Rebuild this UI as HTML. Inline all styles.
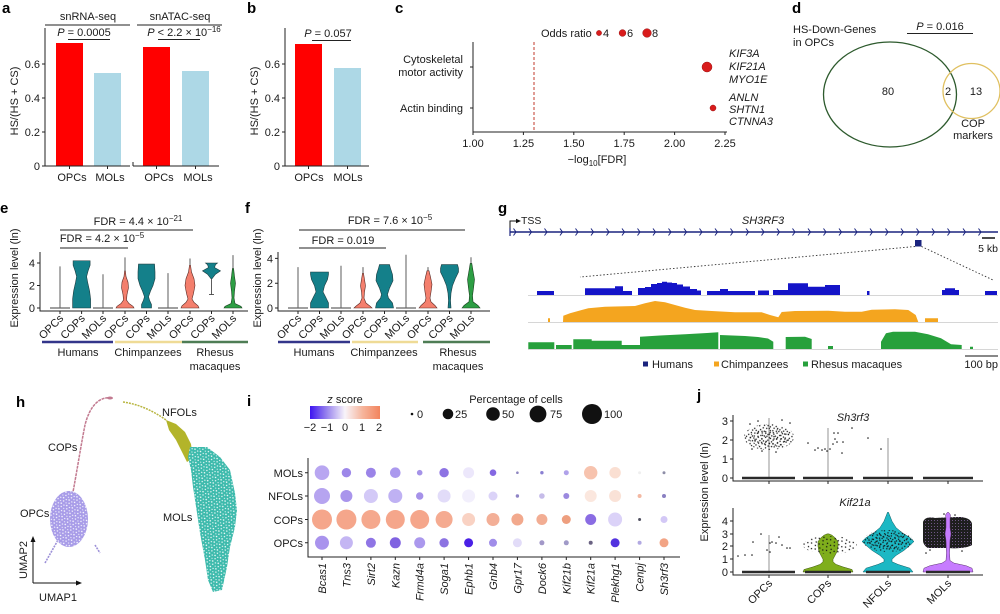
<!DOCTYPE html>
<html><head><meta charset="utf-8">
<style>
html,body{margin:0;padding:0;background:#fff;}
svg{display:block;font-family:"Liberation Sans",Arial,sans-serif;}
.t{font-size:11px;fill:#1a1a1a;}
.s{font-size:10.5px;fill:#1a1a1a;}
.L{font-size:15px;font-weight:bold;fill:#000;}
.ax{stroke:#222;stroke-width:1;fill:none;}
.it{font-style:italic;}
.vl{stroke:#333;stroke-width:0.8;fill:none;}
.fl{stroke:#666;stroke-width:1.2;fill:none;}
.vt{fill:#14808a;stroke:#1d3b3f;stroke-width:0.6;}
.vs{fill:#f47f6d;stroke:#5a2a25;stroke-width:0.6;}
.vg{fill:#2d9e44;stroke:#1a4020;stroke-width:0.6;}
</style></head><body>
<svg width="1000" height="614" viewBox="0 0 1000 614" xmlns="http://www.w3.org/2000/svg">
<defs>
<pattern id="spw" width="6" height="6" patternUnits="userSpaceOnUse" patternTransform="rotate(23)">
<circle cx="1" cy="1.2" r="0.75" fill="#fff"/><circle cx="4.2" cy="2" r="0.65" fill="#fff"/><circle cx="2.3" cy="4.3" r="0.7" fill="#fff"/><circle cx="5.3" cy="5.1" r="0.55" fill="#fff"/>
</pattern>
<pattern id="pk" width="10" height="8" patternUnits="userSpaceOnUse" patternTransform="rotate(17)">
<circle cx="1" cy="1" r="0.7" fill="#111"/><circle cx="5" cy="2" r="0.7" fill="#111"/><circle cx="8.5" cy="1.5" r="0.7" fill="#111"/><circle cx="3" cy="4.5" r="0.7" fill="#111"/><circle cx="7" cy="5" r="0.7" fill="#111"/><circle cx="1.5" cy="7" r="0.7" fill="#111"/><circle cx="5.5" cy="7.2" r="0.7" fill="#111"/><circle cx="9" cy="6.5" r="0.7" fill="#111"/>
</pattern>
<pattern id="pk2" width="9" height="7" patternUnits="userSpaceOnUse" patternTransform="rotate(-31)">
<circle cx="2" cy="1.5" r="0.7" fill="#111"/><circle cx="6.5" cy="3" r="0.7" fill="#111"/><circle cx="4" cy="5.5" r="0.7" fill="#111"/><circle cx="8" cy="6.2" r="0.7" fill="#111"/>
</pattern>
<pattern id="pkd" width="3" height="3" patternUnits="userSpaceOnUse">
<rect width="3" height="3" fill="#1e1e1e"/><circle cx="1.5" cy="1.5" r="0.5" fill="#8a6aa8"/>
</pattern>
<linearGradient id="zg" x1="0" y1="0" x2="1" y2="0">
<stop offset="0" stop-color="#3d14f0"/><stop offset="0.25" stop-color="#9c88ee"/><stop offset="0.5" stop-color="#f8f4fa"/><stop offset="0.75" stop-color="#f6b59c"/><stop offset="1" stop-color="#f2845e"/>
</linearGradient>
</defs>

<!-- ================= a ================= -->
<text class="L" x="2" y="13">a</text>
<text class="t" x="88" y="20" text-anchor="middle">snRNA-seq</text>
<line x1="45" y1="25" x2="130" y2="25" class="ax"/>
<text class="t" x="180" y="20" text-anchor="middle">snATAC-seq</text>
<line x1="137" y1="25" x2="222" y2="25" class="ax"/>
<text class="t" x="84" y="36" text-anchor="middle"><tspan class="it">P</tspan> = 0.0005</text>
<line x1="68" y1="39.5" x2="110" y2="39.5" class="ax"/>
<text class="t" x="184" y="36" text-anchor="middle"><tspan class="it">P</tspan> &lt; 2.2 × 10<tspan dy="-4" font-size="8">−16</tspan></text>
<line x1="158" y1="39.5" x2="200" y2="39.5" class="ax"/>
<rect x="56" y="43" width="27" height="123" fill="#ff0000"/>
<rect x="94" y="73" width="27" height="93" fill="#add8e6"/>
<rect x="143" y="47" width="27" height="119" fill="#ff0000"/>
<rect x="182" y="71" width="27" height="95" fill="#add8e6"/>
<path class="ax" d="M45,28 V166 H130 M133,166 H219 M133,166V162"/>
<path class="ax" d="M42,166H45 M42,132H45 M42,98H45 M42,64H45 M69.5,166V169 M107.5,166V169 M156.5,166V169 M195.5,166V169"/>
<text class="t" x="40" y="170" text-anchor="end">0</text>
<text class="t" x="40" y="136" text-anchor="end">0.2</text>
<text class="t" x="40" y="102" text-anchor="end">0.4</text>
<text class="t" x="40" y="68" text-anchor="end">0.6</text>
<text class="t" transform="translate(18,101) rotate(-90)" text-anchor="middle">HS/(HS + CS)</text>
<text class="t" x="72" y="181" text-anchor="middle">OPCs</text>
<text class="t" x="110" y="181" text-anchor="middle">MOLs</text>
<text class="t" x="159" y="181" text-anchor="middle">OPCs</text>
<text class="t" x="198" y="181" text-anchor="middle">MOLs</text>

<!-- ================= b ================= -->
<text class="L" x="247" y="13">b</text>
<text class="t" x="328" y="37" text-anchor="middle"><tspan class="it">P</tspan> = 0.057</text>
<line x1="312" y1="40.5" x2="351" y2="40.5" class="ax"/>
<rect x="295" y="44" width="27" height="122" fill="#ff0000"/>
<rect x="334" y="68" width="27" height="98" fill="#add8e6"/>
<path class="ax" d="M285,28 V166 H369"/>
<path class="ax" d="M282,166H285 M282,132H285 M282,98H285 M282,64H285 M308.5,166V169 M347.5,166V169"/>
<text class="t" x="280" y="170" text-anchor="end">0</text>
<text class="t" x="280" y="136" text-anchor="end">0.2</text>
<text class="t" x="280" y="102" text-anchor="end">0.4</text>
<text class="t" x="280" y="68" text-anchor="end">0.6</text>
<text class="t" transform="translate(258,101) rotate(-90)" text-anchor="middle">HS/(HS + CS)</text>
<text class="t" x="309" y="181" text-anchor="middle">OPCs</text>
<text class="t" x="348" y="181" text-anchor="middle">MOLs</text>

<!-- ================= c ================= -->
<text class="L" x="395" y="13">c</text>
<text class="t" x="541" y="37">Odds ratio</text>
<circle cx="599" cy="33" r="2.6" fill="#d91c1c" stroke="#9a1010" stroke-width="0.5"/>
<text class="t" x="603" y="37">4</text>
<circle cx="622.5" cy="33" r="3.4" fill="#d91c1c" stroke="#9a1010" stroke-width="0.5"/>
<text class="t" x="627" y="37">6</text>
<circle cx="647" cy="33" r="4.3" fill="#d91c1c" stroke="#9a1010" stroke-width="0.5"/>
<text class="t" x="652" y="37">8</text>
<line x1="534" y1="42" x2="534" y2="132" stroke="#c0392b" stroke-dasharray="3,2" stroke-width="1"/>
<path class="ax" d="M473,42 V132 H727"/>
<path class="ax" d="M470,67H473 M470,108H473 M473,132V135 M523.4,132V135 M573.8,132V135 M624.2,132V135 M674.6,132V135 M725,132V135"/>
<text class="t" x="473" y="147" text-anchor="middle">1.00</text>
<text class="t" x="523.4" y="147" text-anchor="middle">1.25</text>
<text class="t" x="573.8" y="147" text-anchor="middle">1.50</text>
<text class="t" x="624.2" y="147" text-anchor="middle">1.75</text>
<text class="t" x="674.6" y="147" text-anchor="middle">2.00</text>
<text class="t" x="725" y="147" text-anchor="middle">2.25</text>
<text class="t" x="597" y="163" text-anchor="middle">−log<tspan dy="3" font-size="8">10</tspan><tspan dy="-3">[FDR]</tspan></text>
<text class="t" x="463" y="63" text-anchor="end">Cytoskeletal</text>
<text class="t" x="463" y="76" text-anchor="end">motor activity</text>
<text class="t" x="463" y="112" text-anchor="end">Actin binding</text>
<circle cx="707" cy="67" r="5" fill="#d91c1c" stroke="#9a1010" stroke-width="0.5"/>
<circle cx="713" cy="108" r="3" fill="#d91c1c" stroke="#9a1010" stroke-width="0.5"/>
<text class="t it" x="729" y="57">KIF3A</text>
<text class="t it" x="729" y="70">KIF21A</text>
<text class="t it" x="729" y="83">MYO1E</text>
<text class="t it" x="729" y="101">ANLN</text>
<text class="t it" x="729" y="113">SHTN1</text>
<text class="t it" x="729" y="125">CTNNA3</text>

<!-- ================= d ================= -->
<text class="L" x="792" y="13">d</text>
<text class="t" x="793" y="33">HS-Down-Genes</text>
<text class="t" x="793" y="46">in OPCs</text>
<text class="t" x="940" y="30" text-anchor="middle"><tspan class="it">P</tspan> = 0.016</text>
<line x1="907" y1="33.5" x2="973" y2="33.5" class="ax"/>
<ellipse cx="890" cy="94.5" rx="66.5" ry="52.5" fill="none" stroke="#2d5a2d" stroke-width="1.3"/>
<ellipse cx="971.5" cy="91" rx="28.5" ry="27.5" fill="none" stroke="#e0c060" stroke-width="1.3"/>
<text class="t" x="888" y="95" text-anchor="middle" font-size="12">80</text>
<text class="t" x="948" y="95" text-anchor="middle" font-size="12">2</text>
<text class="t" x="976" y="95" text-anchor="middle" font-size="12">13</text>
<text class="t" x="973" y="127" text-anchor="middle">COP</text>
<text class="t" x="973" y="139" text-anchor="middle">markers</text>

<!-- ================= e ================= -->
<text class="L" x="0" y="213">e</text>
<text class="t" x="138" y="225" text-anchor="middle">FDR = 4.4 × 10<tspan dy="-4" font-size="8">−21</tspan></text>
<line x1="60" y1="230" x2="193" y2="230" class="ax"/>
<text class="t" x="102" y="242" text-anchor="middle">FDR = 4.2 × 10<tspan dy="-4" font-size="8">−5</tspan></text>
<line x1="60" y1="248" x2="128" y2="248" class="ax"/>
<line x1="60" y1="308" x2="60" y2="266.4" class="vl"/><line x1="50" y1="308" x2="70" y2="308" class="fl"/>
<path class="vt" d="M72.6,308 L72.6,299 L73.6,291.1 L75.6,282.1 L76.6,276.5 L75.1,270.9 L73.1,265.25 L73.1,260.75 L90.1,260.75 L90.1,265.25 L88.1,270.9 L86.6,276.5 L87.6,282.1 L89.6,291.1 L90.6,299 L90.6,308 Z"/>
<line x1="103" y1="308" x2="103" y2="274.25" class="vl"/><line x1="93" y1="308" x2="113" y2="308" class="fl"/>
<line x1="125" y1="308" x2="125" y2="257.4" class="vl"/>
<path class="vs" d="M116,308 L117,306.3 L121,303.5 L123.5,300.1 L123,294.5 L121.5,287.75 L122,282.1 L124,276.5 L124.6,270.9 L125.4,270.9 L126,276.5 L128,282.1 L128.5,287.75 L127,294.5 L126.5,300.1 L129,303.5 L133,306.3 L134,308 Z"/>
<path class="vt" d="M141.5,308 L141.5,304.6 L143.5,300.1 L144.5,296.75 L142.5,291.1 L140,285.5 L138,278.75 L138,272 L138.5,264.1 L154.5,264.1 L155,272 L155,278.75 L153,285.5 L150.5,291.1 L148.5,296.75 L149.5,300.1 L151.5,304.6 L151.5,308 Z"/>
<line x1="168" y1="308" x2="168" y2="273.1" class="vl"/><line x1="158" y1="308" x2="178" y2="308" class="fl"/>
<line x1="190" y1="308" x2="190" y2="258.5" class="vl"/>
<path class="vs" d="M181,308 L182,305.75 L186,302.4 L188,299 L186.5,293.4 L185,285.5 L186,278.75 L188.5,272 L189.5,265.25 L190.5,265.25 L191.5,272 L194,278.75 L195,285.5 L193.5,293.4 L192,299 L194,302.4 L198,305.75 L199,308 Z"/>
<line x1="211.5" y1="294.5" x2="211.5" y2="263" class="vl"/>
<line x1="209" y1="294.5" x2="214" y2="294.5" class="vl"/>
<path class="vt" d="M211,278.75 L207.5,274.25 L202.5,270.9 L208.5,267.5 L207.5,264.7 L205.5,263 L217.5,263 L215.5,264.7 L214.5,267.5 L220.5,270.9 L215.5,274.25 L212,278.75 Z"/>
<line x1="233" y1="308" x2="233" y2="255.1" class="vl"/>
<path class="vg" d="M224,308 L225,306.3 L231,303.5 L232,297.9 L231.5,291.1 L230.5,283.25 L231.5,276.5 L232.4,268.6 L233.6,268.6 L234.5,276.5 L235.5,283.25 L234.5,291.1 L234,297.9 L235,303.5 L241,306.3 L242,308 Z"/>
<path class="ax" d="M40,252 V311 H248"/>
<path class="ax" d="M37,263H40 M37,285.5H40 M37,308H40 M60,311V314 M81.6,311V314 M103,311V314 M125,311V314 M146.5,311V314 M168,311V314 M190,311V314 M211.5,311V314 M233,311V314"/>
<text class="t" x="35" y="267" text-anchor="end">4</text>
<text class="t" x="35" y="289.5" text-anchor="end">2</text>
<text class="t" x="35" y="312" text-anchor="end">0</text>
<text class="t" transform="translate(18,278) rotate(-90)" text-anchor="middle">Expression level (ln)</text>
<g class="t">
<text transform="translate(64,319) rotate(-45)" text-anchor="end">OPCs</text>
<text transform="translate(85.6,319) rotate(-45)" text-anchor="end">COPs</text>
<text transform="translate(107,319) rotate(-45)" text-anchor="end">MOLs</text>
<text transform="translate(129,319) rotate(-45)" text-anchor="end">OPCs</text>
<text transform="translate(150.5,319) rotate(-45)" text-anchor="end">COPs</text>
<text transform="translate(172,319) rotate(-45)" text-anchor="end">MOLs</text>
<text transform="translate(194,319) rotate(-45)" text-anchor="end">OPCs</text>
<text transform="translate(215.5,319) rotate(-45)" text-anchor="end">COPs</text>
<text transform="translate(237,319) rotate(-45)" text-anchor="end">MOLs</text>
</g>
<line x1="42" y1="342" x2="113" y2="342" stroke="#33358a" stroke-width="2.5"/>
<line x1="115" y1="342" x2="182" y2="342" stroke="#efdb96" stroke-width="2.5"/>
<line x1="182" y1="342" x2="248" y2="342" stroke="#4e7d55" stroke-width="2.5"/>
<text class="t" x="78" y="356" text-anchor="middle">Humans</text>
<text class="t" x="148" y="356" text-anchor="middle">Chimpanzees</text>
<text class="t" x="215" y="356" text-anchor="middle">Rhesus</text>
<text class="t" x="215" y="370" text-anchor="middle">macaques</text>

<!-- ================= f ================= -->
<text class="L" x="245" y="213">f</text>
<text class="t" x="390" y="224" text-anchor="middle">FDR = 7.6 × 10<tspan dy="-4" font-size="8">−5</tspan></text>
<line x1="299" y1="230" x2="465" y2="230" class="ax"/>
<text class="t" x="343" y="244" text-anchor="middle">FDR = 0.019</text>
<line x1="299" y1="248" x2="386" y2="248" class="ax"/>
<line x1="298" y1="308" x2="298" y2="267.1" class="vl"/><line x1="288" y1="308" x2="308" y2="308" class="fl"/>
<path class="vt" d="M310.5,308 L310.5,303 L313.5,296.8 L316,291.9 L314.5,285.7 L311.5,279.5 L310.5,274.5 L310.5,272 L328.5,272 L328.5,274.5 L327.5,279.5 L324.5,285.7 L323,291.9 L325.5,296.8 L328.5,303 L328.5,308 Z"/>
<line x1="341" y1="308" x2="341" y2="265.8" class="vl"/><line x1="331" y1="308" x2="351" y2="308" class="fl"/>
<line x1="363" y1="308" x2="363" y2="267.1" class="vl"/>
<path class="vs" d="M354,308 L356,306.1 L360,303 L362,298.1 L361.5,291.9 L360.5,285.7 L361.5,279.5 L362.5,273.3 L363.5,273.3 L364.5,279.5 L365.5,285.7 L364.5,291.9 L364,298.1 L366,303 L370,306.1 L372,308 Z"/>
<path class="vt" d="M375.5,308 L376.5,303 L380.5,298.1 L381.5,294.4 L379.5,288.2 L376,280.7 L376.5,274.5 L378.5,268.3 L379.5,264.6 L389.5,264.6 L390.5,268.3 L392.5,274.5 L393,280.7 L389.5,288.2 L387.5,294.4 L388.5,298.1 L392.5,303 L393.5,308 Z"/>
<line x1="406" y1="308" x2="406" y2="254.7" class="vl"/><line x1="396" y1="308" x2="416" y2="308" class="fl"/>
<line x1="428" y1="308" x2="428" y2="267.1" class="vl"/>
<path class="vs" d="M419,308 L421,305.5 L425,301.8 L426,298.1 L425,291.9 L424,284.4 L425.5,277 L427,270.8 L429,270.8 L430.5,277 L432,284.4 L431,291.9 L430,298.1 L431,301.8 L435,305.5 L437,308 Z"/>
<path class="vt" d="M448,308 L448.5,300.6 L448,293.1 L446.5,285.7 L443.5,278.2 L440.5,272 L440.5,268.3 L441.5,264.6 L457.5,264.6 L458.5,268.3 L458.5,272 L455.5,278.2 L452.5,285.7 L451,293.1 L450.5,300.6 L451,308 Z"/>
<line x1="471" y1="308" x2="471" y2="257.2" class="vl"/>
<path class="vg" d="M462,308 L464,305.5 L469,301.8 L469.5,295.6 L468.5,288.2 L467.5,279.5 L469,270.8 L470.2,263.4 L471.8,263.4 L473,270.8 L474.5,279.5 L473.5,288.2 L472.5,295.6 L473,301.8 L478,305.5 L480,308 Z"/>
<path class="ax" d="M278,252 V311 H490"/>
<path class="ax" d="M275,258.4H278 M275,283.2H278 M275,308H278 M298,311V314 M319.5,311V314 M341,311V314 M363,311V314 M384.5,311V314 M406,311V314 M428,311V314 M449.5,311V314 M471,311V314"/>
<text class="t" x="273" y="262.4" text-anchor="end">4</text>
<text class="t" x="273" y="287.2" text-anchor="end">2</text>
<text class="t" x="273" y="312" text-anchor="end">0</text>
<text class="t" transform="translate(261,278) rotate(-90)" text-anchor="middle">Expression level (ln)</text>
<g class="t">
<text transform="translate(302,319) rotate(-45)" text-anchor="end">OPCs</text>
<text transform="translate(323.5,319) rotate(-45)" text-anchor="end">COPs</text>
<text transform="translate(345,319) rotate(-45)" text-anchor="end">MOLs</text>
<text transform="translate(367,319) rotate(-45)" text-anchor="end">OPCs</text>
<text transform="translate(388.5,319) rotate(-45)" text-anchor="end">COPs</text>
<text transform="translate(410,319) rotate(-45)" text-anchor="end">MOLs</text>
<text transform="translate(432,319) rotate(-45)" text-anchor="end">OPCs</text>
<text transform="translate(453.5,319) rotate(-45)" text-anchor="end">COPs</text>
<text transform="translate(475,319) rotate(-45)" text-anchor="end">MOLs</text>
</g>
<line x1="278" y1="342" x2="350" y2="342" stroke="#33358a" stroke-width="2.5"/>
<line x1="352" y1="342" x2="418" y2="342" stroke="#efdb96" stroke-width="2.5"/>
<line x1="423" y1="342" x2="490" y2="342" stroke="#4e7d55" stroke-width="2.5"/>
<text class="t" x="314" y="356" text-anchor="middle">Humans</text>
<text class="t" x="384" y="356" text-anchor="middle">Chimpanzees</text>
<text class="t" x="458" y="356" text-anchor="middle">Rhesus</text>
<text class="t" x="458" y="370" text-anchor="middle">macaques</text>

<!-- ================= g ================= -->
<text class="L" x="498" y="213">g</text>
<path d="M510,232 V221 H517" stroke="#111" stroke-width="1" fill="none"/>
<polygon points="516,218.8 521,221 516,223.2" fill="#111"/>
<text class="s" x="521" y="224">TSS</text>
<text class="t it" x="763" y="224" text-anchor="middle">SH3RF3</text>
<line x1="510" y1="232" x2="998" y2="232" stroke="#1a237e" stroke-width="1.5"/>
<line x1="510" y1="228" x2="510" y2="236" stroke="#1a237e" stroke-width="1.2"/>
<path fill="none" stroke="#1a237e" stroke-width="1" d="M513.5,228.5 L516,232 L513.5,235.5 M529,228.5 L531.5,232 L529,235.5 M544.5,228.5 L547,232 L544.5,235.5 M560,228.5 L562.5,232 L560,235.5 M575.5,228.5 L578,232 L575.5,235.5 M591,228.5 L593.5,232 L591,235.5 M606.5,228.5 L609,232 L606.5,235.5 M622,228.5 L624.5,232 L622,235.5 M637.5,228.5 L640,232 L637.5,235.5 M653,228.5 L655.5,232 L653,235.5 M668.5,228.5 L671,232 L668.5,235.5 M684,228.5 L686.5,232 L684,235.5 M699.5,228.5 L702,232 L699.5,235.5 M715,228.5 L717.5,232 L715,235.5 M730.5,228.5 L733,232 L730.5,235.5 M746,228.5 L748.5,232 L746,235.5 M761.5,228.5 L764,232 L761.5,235.5 M777,228.5 L779.5,232 L777,235.5 M792.5,228.5 L795,232 L792.5,235.5 M808,228.5 L810.5,232 L808,235.5 M823.5,228.5 L826,232 L823.5,235.5 M839,228.5 L841.5,232 L839,235.5 M854.5,228.5 L857,232 L854.5,235.5 M870,228.5 L872.5,232 L870,235.5 M885.5,228.5 L888,232 L885.5,235.5 M901,228.5 L903.5,232 L901,235.5 M916.5,228.5 L919,232 L916.5,235.5 M932,228.5 L934.5,232 L932,235.5 M947.5,228.5 L950,232 L947.5,235.5 M963,228.5 L965.5,232 L963,235.5 M978.5,228.5 L981,232 L978.5,235.5"/>
<rect x="915" y="240" width="6.5" height="6.5" fill="#1a237e"/>
<line x1="982" y1="238" x2="995" y2="238" stroke="#111" stroke-width="1.5"/>
<text class="s" x="998" y="252" text-anchor="end">5 kb</text>
<path d="M915,246.5 L580,277 M921.5,246.5 L993,280" stroke="#333" stroke-width="0.9" stroke-dasharray="1.5,2" fill="none"/>
<g stroke="#c8c8c8" stroke-width="0.8">
<line x1="528" y1="295.5" x2="998" y2="295.5"/>
<line x1="528" y1="322.5" x2="998" y2="322.5"/>
<line x1="528" y1="349.5" x2="998" y2="349.5"/>
</g>
<path fill="#1414c8" d="M537,295 V291 H554 V295 Z M585,295 V288.3 H615 V286.3 H623 V291 H632 V295 Z M638,295 V288 H645 V287 H651 V284 H657 V283 H662 V281.7 H667 V282.5 H672 V283 H677 V284.5 H683 V286.5 H690 V289 H697 V290.5 H701 V295 Z M707,295 V291 H720 V289 H728 V291 H755 V295 Z M758,295 V290.5 H769 V295 Z M773,295 V290 H788 V283.3 H808 V286.7 H825 V285 H840 V295 Z M867,295 V291 H869.5 V295 Z M942,295 V290 H945 V288.3 H955 V290 H959 V295 Z M985,295 V291 H997 V295 Z"/>
<path fill="#f4a51f" d="M548,322 V318.3 H550 V322 Z M563,322 L563.3,315.7 L570,313.3 L581.7,310 L588.3,308.3 L605,306.7 L635,306 L645,303.3 L655,301 L665,302.3 L675,305 L685,307.7 L695,310 L711.7,311 L735,312.3 L761.7,312.3 L770,315 L778.3,317.3 L781.7,312 L795,311 L828.3,310.7 L845,311.7 L861.7,311.7 L871.7,309.7 L895,309.3 L908.3,310 L915.7,315 L918.3,322 Z M925,322 V318.3 H938 V322 Z"/>
<path fill="#27a03c" d="M528.3,349 V342.3 H554.3 V349 Z M556,349 V345 H571.7 V349 Z M573.3,349 V339.3 H591.7 V340.7 H621.7 V345 H640 V336.7 L660,335.5 L685,334.3 L707,333 L718.3,332.3 V349 Z M720,349 V335 L745,336 L758,337 L768,338.5 L773.3,341.7 V349 Z M785.7,349 V337 L805,336.7 L811.7,339 V349 Z M828,349 V346 H833 V349 Z M881,349 V341.7 L886,333.3 L893,331.7 L915,331.7 L928,334.3 L941,338.3 L951,344.3 L961.7,345 V349 Z M970,349 V346.7 H973 V349 Z"/>
<rect x="643" y="361.5" width="5" height="5" fill="#1a237e"/>
<text class="t" x="652" y="368">Humans</text>
<rect x="714" y="361.5" width="5" height="5" fill="#f4a51f"/>
<text class="t" x="721" y="368">Chimpanzees</text>
<rect x="803" y="361.5" width="5" height="5" fill="#27a03c"/>
<text class="t" x="811" y="368">Rhesus macaques</text>
<line x1="965" y1="356" x2="998" y2="356" stroke="#111" stroke-width="1"/>
<text class="t" x="998" y="368" text-anchor="end">100 bp</text>

<!-- ================= h ================= -->
<text class="L" x="16" y="407">h</text>
<path d="M45,563 L58,540 M95,545 L100,553" stroke="#9d91d8" stroke-width="1.6" stroke-dasharray="2,1" fill="none"/>
<ellipse cx="69" cy="519" rx="19" ry="28" fill="#a89ce8"/>
<ellipse cx="69" cy="519" rx="19" ry="28" fill="url(#spw)"/>
<path d="M112,398 C100,396 90,405 85,425 C81,445 78,465 73,492" stroke="#c27a90" stroke-width="1.5" fill="none" stroke-dasharray="3,0.8"/>
<ellipse cx="110" cy="398" rx="3" ry="1.5" fill="#c27a90"/>
<path d="M123,402 Q145,405 166,420" stroke="#b8b540" stroke-width="1.5" fill="none" stroke-dasharray="2,1"/>
<polygon points="166,420 176,424 185,432 191,444 193,458 187,462 182,452 176,440 169,430" fill="#b3b42a"/>
<polygon points="188,457 190,447 207,447 220,457 230,470 235,493 237,510 235,527 230,547 227,567 222,590 213,592 208,580 205,560 200,533 197,513 193,487 191,470" fill="#3dbaac"/>
<polygon points="188,457 190,447 207,447 220,457 230,470 235,493 237,510 235,527 230,547 227,567 222,590 213,592 208,580 205,560 200,533 197,513 193,487 191,470" fill="url(#spw)"/>
<text class="t" x="48" y="451">COPs</text>
<text class="t" x="162" y="416">NFOLs</text>
<text class="t" x="20" y="517">OPCs</text>
<text class="t" x="163" y="521">MOLs</text>
<path d="M33,583 V541 M33,583 H77" stroke="#111" stroke-width="1" fill="none"/>
<polygon points="30.5,542 33,536 35.5,542" fill="#111"/>
<polygon points="76,580.5 82,583 76,585.5" fill="#111"/>
<text class="t" transform="translate(27,560) rotate(-90)" text-anchor="middle">UMAP2</text>
<text class="t" x="58" y="601" text-anchor="middle">UMAP1</text>

<!-- ================= i ================= -->
<text class="L" x="247" y="406">i</text>
<text class="t" x="345" y="403" text-anchor="middle"><tspan class="it">z</tspan> score</text>
<rect x="310" y="406" width="70" height="13" fill="url(#zg)"/>
<text class="t" x="310" y="431" text-anchor="middle">−2</text>
<text class="t" x="327" y="431" text-anchor="middle">−1</text>
<text class="t" x="345" y="431" text-anchor="middle">0</text>
<text class="t" x="362" y="431" text-anchor="middle">1</text>
<text class="t" x="379" y="431" text-anchor="middle">2</text>
<text class="t" x="516" y="403" text-anchor="middle">Percentage of cells</text>
<circle cx="412" cy="414" r="1.3" fill="#111"/><text class="t" x="417" y="418">0</text>
<circle cx="448" cy="414" r="5.3" fill="#111"/><text class="t" x="455" y="418">25</text>
<circle cx="493" cy="414" r="6.8" fill="#111"/><text class="t" x="502" y="418">50</text>
<circle cx="538" cy="414" r="8.4" fill="#111"/><text class="t" x="550" y="418">75</text>
<circle cx="592" cy="414" r="10" fill="#111"/><text class="t" x="604" y="418">100</text>
<path class="ax" d="M308,458 V557 H680"/>
<path class="ax" d="M305,472.7H308 M305,496H308 M305,519.5H308 M305,542.8H308"/>
<text class="t" x="303" y="477" text-anchor="end">MOLs</text>
<text class="t" x="303" y="500" text-anchor="end">NFOLs</text>
<text class="t" x="303" y="524" text-anchor="end">COPs</text>
<text class="t" x="303" y="547" text-anchor="end">OPCs</text>
<g>
<circle cx="322" cy="472.7" r="7.3" fill="#b8a6f1"/>
<circle cx="346.4" cy="472.7" r="4.7" fill="#9d87e9"/>
<circle cx="370.9" cy="472.7" r="5" fill="#9b84e8"/>
<circle cx="395.3" cy="472.7" r="5.3" fill="#ab99ee"/>
<circle cx="419.7" cy="472.7" r="2.8" fill="#a593e8"/>
<circle cx="444.1" cy="472.7" r="4.7" fill="#8d73e3"/>
<circle cx="468.6" cy="472.7" r="5.5" fill="#ece7fb"/>
<circle cx="493" cy="472.7" r="3.3" fill="#8468e2"/>
<circle cx="517.4" cy="472.7" r="1.3" fill="#8e86c0"/>
<circle cx="541.9" cy="472.7" r="1.7" fill="#8a7fd2"/>
<circle cx="566.3" cy="472.7" r="2.5" fill="#b0a2ea"/>
<circle cx="590.7" cy="472.7" r="6.7" fill="#f7c3ae"/>
<circle cx="615.1" cy="472.7" r="5.7" fill="#fadfd2"/>
<circle cx="639.6" cy="472.7" r="1.5" fill="#efefef"/>
<circle cx="664" cy="472.7" r="1.5" fill="#8e8ea8"/>
<circle cx="322" cy="496" r="8" fill="#b6a4f0"/>
<circle cx="346.4" cy="496" r="6" fill="#a995ec"/>
<circle cx="370.9" cy="496" r="7" fill="#d3c9f7"/>
<circle cx="395.3" cy="496" r="7" fill="#bfb1f3"/>
<circle cx="419.7" cy="496" r="3.7" fill="#a692e9"/>
<circle cx="444.1" cy="496" r="6.5" fill="#e2dcf9"/>
<circle cx="468.6" cy="496" r="6.5" fill="#f2effc"/>
<circle cx="493" cy="496" r="4.5" fill="#dbd3f8"/>
<circle cx="517.4" cy="496" r="1.7" fill="#8f84c6"/>
<circle cx="541.9" cy="496" r="2.8" fill="#c6bce9"/>
<circle cx="566.3" cy="496" r="3" fill="#9b89df"/>
<circle cx="590.7" cy="496" r="6" fill="#fbe7de"/>
<circle cx="615.1" cy="496" r="6" fill="#fae2d7"/>
<circle cx="639.6" cy="496" r="2" fill="#f3b8a2"/>
<circle cx="664" cy="496" r="2" fill="#8a80c2"/>
<circle cx="322" cy="519.5" r="10" fill="#f5a68b"/>
<circle cx="346.4" cy="519.5" r="10" fill="#f5a68b"/>
<circle cx="370.9" cy="519.5" r="9.5" fill="#f5a88d"/>
<circle cx="395.3" cy="519.5" r="9.5" fill="#f5a68b"/>
<circle cx="419.7" cy="519.5" r="9.5" fill="#f5a68b"/>
<circle cx="444.1" cy="519.5" r="8.5" fill="#f5ab91"/>
<circle cx="468.6" cy="519.5" r="6.5" fill="#f9d2c3"/>
<circle cx="493" cy="519.5" r="6.5" fill="#f3af97"/>
<circle cx="517.4" cy="519.5" r="6" fill="#f2a98d"/>
<circle cx="541.9" cy="519.5" r="5.5" fill="#f2ad93"/>
<circle cx="566.3" cy="519.5" r="4.5" fill="#ee9f7f"/>
<circle cx="590.7" cy="519.5" r="5.5" fill="#8a6ce3"/>
<circle cx="615.1" cy="519.5" r="7" fill="#dbd2f8"/>
<circle cx="639.6" cy="519.5" r="1.5" fill="#505060"/>
<circle cx="664" cy="519.5" r="3.5" fill="#d3c8f6"/>
<circle cx="322" cy="542.8" r="7" fill="#a993ed"/>
<circle cx="346.4" cy="542.8" r="6.5" fill="#c4b6f3"/>
<circle cx="370.9" cy="542.8" r="5" fill="#8f75e5"/>
<circle cx="395.3" cy="542.8" r="5.5" fill="#8062e1"/>
<circle cx="419.7" cy="542.8" r="5.5" fill="#ab98ed"/>
<circle cx="444.1" cy="542.8" r="4.7" fill="#8c73e2"/>
<circle cx="468.6" cy="542.8" r="4.5" fill="#4a20e6"/>
<circle cx="493" cy="542.8" r="4" fill="#a08de9"/>
<circle cx="517.4" cy="542.8" r="4.5" fill="#e2dcf8"/>
<circle cx="541.9" cy="542.8" r="2.5" fill="#a298c8"/>
<circle cx="566.3" cy="542.8" r="2.5" fill="#a09ac8"/>
<circle cx="590.7" cy="542.8" r="2" fill="#6a6282"/>
<circle cx="615.1" cy="542.8" r="4.5" fill="#5232df"/>
<circle cx="639.6" cy="542.8" r="2" fill="#b2a9e2"/>
<circle cx="664" cy="542.8" r="4.5" fill="#f2a485"/>
</g>
<path class="ax" d="M322,557V560 M346.4,557V560 M370.9,557V560 M395.3,557V560 M419.7,557V560 M444.1,557V560 M468.6,557V560 M493,557V560 M517.4,557V560 M541.9,557V560 M566.3,557V560 M590.7,557V560 M615.1,557V560 M639.6,557V560 M664,557V560"/>
<g class="t it" font-size="10.5">
<text transform="translate(326,563) rotate(-90)" text-anchor="end">Bcas1</text>
<text transform="translate(350.4,563) rotate(-90)" text-anchor="end">Tns3</text>
<text transform="translate(374.9,563) rotate(-90)" text-anchor="end">Sirt2</text>
<text transform="translate(399.3,563) rotate(-90)" text-anchor="end">Kazn</text>
<text transform="translate(423.7,563) rotate(-90)" text-anchor="end">Frmd4a</text>
<text transform="translate(448.1,563) rotate(-90)" text-anchor="end">Soga1</text>
<text transform="translate(472.6,563) rotate(-90)" text-anchor="end">Ephb1</text>
<text transform="translate(497,563) rotate(-90)" text-anchor="end">Gnb4</text>
<text transform="translate(521.4,563) rotate(-90)" text-anchor="end">Gpr17</text>
<text transform="translate(545.9,563) rotate(-90)" text-anchor="end">Dock6</text>
<text transform="translate(570.3,563) rotate(-90)" text-anchor="end">Kif21b</text>
<text transform="translate(594.7,563) rotate(-90)" text-anchor="end">Kif21a</text>
<text transform="translate(619.1,563) rotate(-90)" text-anchor="end">Plekhg1</text>
<text transform="translate(643.6,563) rotate(-90)" text-anchor="end">Cenpj</text>
<text transform="translate(668,563) rotate(-90)" text-anchor="end">Sh3rf3</text>
</g>

<!-- ================= j ================= -->
<text class="L" x="697" y="400">j</text>
<text class="t it" x="853" y="421" text-anchor="middle">Sh3rf3</text>
<line x1="769" y1="478" x2="769" y2="418" stroke="#888" stroke-width="0.9"/>
<line x1="828" y1="478" x2="828" y2="428" stroke="#888" stroke-width="0.9"/>
<line x1="888" y1="478" x2="888" y2="438" stroke="#888" stroke-width="0.9"/>
<ellipse cx="769" cy="437" rx="25" ry="13" fill="url(#pk)"/>
<ellipse cx="770" cy="438" rx="21" ry="9" fill="url(#pk2)"/>
<g fill="#111">
<circle cx="750" cy="424" r="0.8"/><circle cx="758" cy="421" r="0.8"/><circle cx="782" cy="420" r="0.8"/><circle cx="790" cy="423" r="0.8"/><circle cx="762" cy="451" r="0.8"/><circle cx="776" cy="452" r="0.8"/><circle cx="752" cy="449" r="0.8"/>
<circle cx="808" cy="443" r="0.8"/><circle cx="815" cy="450" r="0.8"/><circle cx="818" cy="448" r="0.8"/><circle cx="822" cy="450" r="0.8"/><circle cx="825" cy="449" r="0.8"/><circle cx="827" cy="451" r="0.8"/><circle cx="830" cy="449" r="0.8"/><circle cx="833" cy="444" r="0.8"/><circle cx="834" cy="433" r="0.8"/><circle cx="838" cy="433" r="0.8"/><circle cx="835" cy="439" r="0.8"/><circle cx="837" cy="442" r="0.8"/><circle cx="842" cy="453" r="0.8"/><circle cx="843" cy="442" r="0.8"/><circle cx="852" cy="428" r="0.8"/>
<circle cx="868" cy="438" r="0.8"/><circle cx="881" cy="449" r="0.8"/>
</g>
<g stroke="#2a2a2a" stroke-width="2.6">
<line x1="742" y1="478" x2="795" y2="478"/>
<line x1="803" y1="478" x2="853" y2="478"/>
<line x1="863" y1="478" x2="913" y2="478"/>
<line x1="923" y1="478" x2="973" y2="478"/>
</g>
<path class="ax" d="M733,415 V481 H983"/>
<path class="ax" d="M730,421H733 M730,440H733 M730,459H733 M730,478H733 M769,481V484 M828,481V484 M888,481V484 M948,481V484"/>
<text class="t" x="728" y="425" text-anchor="end">3</text>
<text class="t" x="728" y="444" text-anchor="end">2</text>
<text class="t" x="728" y="463" text-anchor="end">1</text>
<text class="t" x="728" y="482" text-anchor="end">0</text>

<text class="t it" x="855" y="506" text-anchor="middle">Kif21a</text>
<line x1="769" y1="572" x2="769" y2="535" stroke="#888" stroke-width="0.9"/>
<g fill="#111">
<circle cx="738" cy="556" r="0.8"/><circle cx="752" cy="555" r="0.8"/><circle cx="753" cy="542" r="0.8"/><circle cx="761" cy="534" r="0.8"/><circle cx="770" cy="543" r="0.8"/><circle cx="772" cy="542" r="0.8"/><circle cx="767" cy="550" r="0.8"/><circle cx="770" cy="552" r="0.8"/><circle cx="776" cy="543" r="0.8"/><circle cx="779" cy="537" r="0.8"/><circle cx="782" cy="545" r="0.8"/><circle cx="787" cy="548" r="0.8"/><circle cx="790" cy="548" r="0.8"/><circle cx="745" cy="555" r="0.8"/>
</g>
<path fill="#7fae1c" stroke="#3d5510" stroke-width="0.5" d="M803,572 L804,569.5 L813,566.9 L820,564.4 L823,561.8 L823,559.3 L821,555.5 L819,551.7 L818,546.6 L818,541.5 L821,537.7 L824,535.2 L827,533.9 L829,533.9 L832,535.2 L835,537.7 L838,541.5 L838,546.6 L837,551.7 L835,555.5 L833,559.3 L833,561.8 L836,564.4 L843,566.9 L852,569.5 L853,572 Z"/>
<ellipse cx="830" cy="545" rx="27" ry="9" fill="url(#pk2)"/>
<path fill="#1cb8c4" stroke="#0e5a60" stroke-width="0.5" d="M863,572 L866,568.2 L878,564.4 L884,561.8 L884,559.3 L880,555.5 L872,550.4 L866,545.3 L862,541.5 L866,537.7 L874,532.6 L880,527.6 L884,521.2 L886.5,514.9 L887.5,512.3 L888.5,512.3 L889.5,514.9 L892,521.2 L896,527.6 L902,532.6 L910,537.7 L914,541.5 L910,545.3 L904,550.4 L896,555.5 L892,559.3 L892,561.8 L898,564.4 L910,568.2 L913,572 Z"/>
<ellipse cx="888" cy="541" rx="25" ry="11" fill="url(#pk)"/>
<ellipse cx="888" cy="541" rx="20" ry="8" fill="url(#pk2)"/>
<path fill="#1e1e1e" opacity="0.9" d="M923,522 Q925,516 935,518 L960,517 Q972,518 972,525 L972,545 Q965,549 948,548 L928,548 Q923,545 923,540 Z"/>
<path fill="url(#pkd)" d="M923,522 Q925,516 935,518 L960,517 Q972,518 972,525 L972,545 Q965,549 948,548 L928,548 Q923,545 923,540 Z"/>
<path fill="#c77cff" stroke="#5a3070" stroke-width="0.5" d="M923,572 L924,568.2 L930,565.7 L942,563.1 L946,560.6 L946.5,553 L946,540.3 L945,533.9 L946,527.6 L946,518.7 L945.5,514.9 L947.5,512.3 L948.5,512.3 L950.5,514.9 L950,518.7 L950,527.6 L951,533.9 L950,540.3 L949.5,553 L950,560.6 L954,563.1 L966,565.7 L972,568.2 L973,572 Z"/>
<g fill="#111"><circle cx="930" cy="550" r="0.8"/><circle cx="962" cy="551" r="0.8"/><circle cx="944" cy="514" r="0.8"/><circle cx="955" cy="515" r="0.8"/><circle cx="926" cy="553" r="0.8"/></g>
<g stroke="#2a2a2a" stroke-width="2.4">
<line x1="742" y1="572" x2="795" y2="572"/>
<line x1="805" y1="572" x2="851" y2="572"/>
<line x1="866" y1="572" x2="910" y2="572"/>
<line x1="926" y1="572" x2="970" y2="572"/>
</g>
<path class="ax" d="M733,508 V575 H983"/>
<path class="ax" d="M730,521H733 M730,534H733 M730,546H733 M730,559H733 M730,572H733 M769,575V578 M828,575V578 M888,575V578 M948,575V578"/>
<text class="t" x="728" y="525" text-anchor="end">4</text>
<text class="t" x="728" y="538" text-anchor="end">3</text>
<text class="t" x="728" y="550" text-anchor="end">2</text>
<text class="t" x="728" y="563" text-anchor="end">1</text>
<text class="t" x="728" y="576" text-anchor="end">0</text>
<text class="t" transform="translate(708,492) rotate(-90)" text-anchor="middle">Expression level (ln)</text>
<g class="t">
<text transform="translate(773,584) rotate(-45)" text-anchor="end">OPCs</text>
<text transform="translate(832,584) rotate(-45)" text-anchor="end">COPs</text>
<text transform="translate(892,584) rotate(-45)" text-anchor="end">NFOLs</text>
<text transform="translate(952,584) rotate(-45)" text-anchor="end">MOLs</text>
</g>
</svg>
</body></html>
